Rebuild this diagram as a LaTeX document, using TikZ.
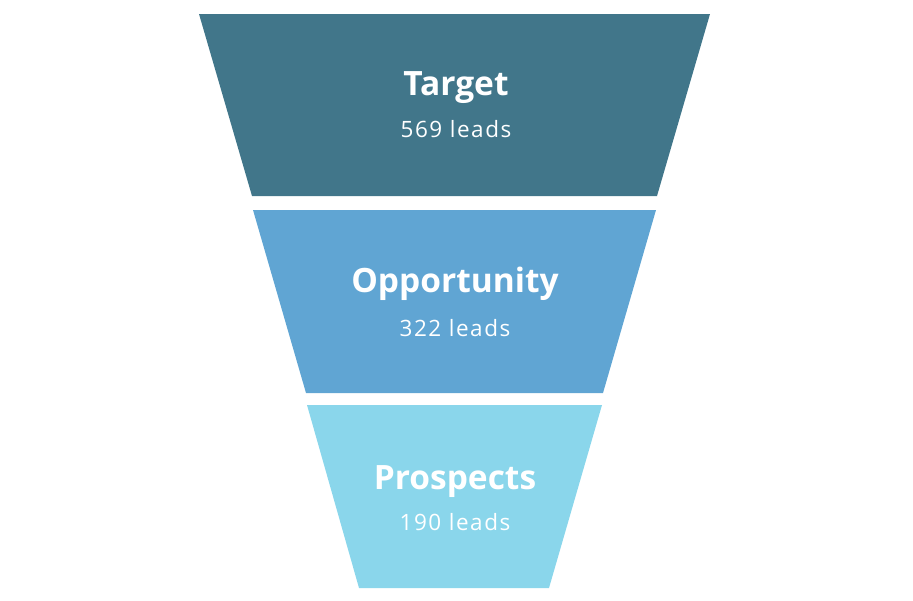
\documentclass[tikz,border=0pt]{standalone}
\usepackage{fontspec}
\setmainfont{Open Sans}
\newfontfamily\subfont[LetterSpace=7]{Open Sans}
\definecolor{cTop}{HTML}{41768A}
\definecolor{cMid}{HTML}{60A5D3}
\definecolor{cBot}{HTML}{8AD6EB}
\tikzset{
  seg/.style={draw=none},
  ttl/.style={text=white,font=\bfseries\fontsize{33.5}{38}\selectfont,anchor=base,inner sep=0pt},
  sub/.style={text=white,font=\subfont\fontsize{22.5}{26}\selectfont,anchor=base,inner sep=0pt}
}
\begin{document}
\begin{tikzpicture}[x=1pt,y=-1pt]
\useasboundingbox (0,0) rectangle (913,600);
\fill[cTop,seg] (199,14) -- (710,14) -- (657,196) -- (252,196) -- cycle;
\fill[cMid,seg] (253,210) -- (656,210) -- (603,393) -- (306,393) -- cycle;
\fill[cBot,seg] (307,405) -- (602,405) -- (549,588) -- (359,588) -- cycle;
\node[ttl] (t1) at (456,95) {Target};
\node[sub] (s1) at (456,137) {569 leads};
\node[ttl] (t2) at (455,292) {Opportunity};
\node[sub] (s2) at (455,336) {322 leads};
\node[ttl] (t3) at (455,489) {Prospects};
\node[sub] (s3) at (455,530) {190 leads};
\end{tikzpicture}
\end{document}
